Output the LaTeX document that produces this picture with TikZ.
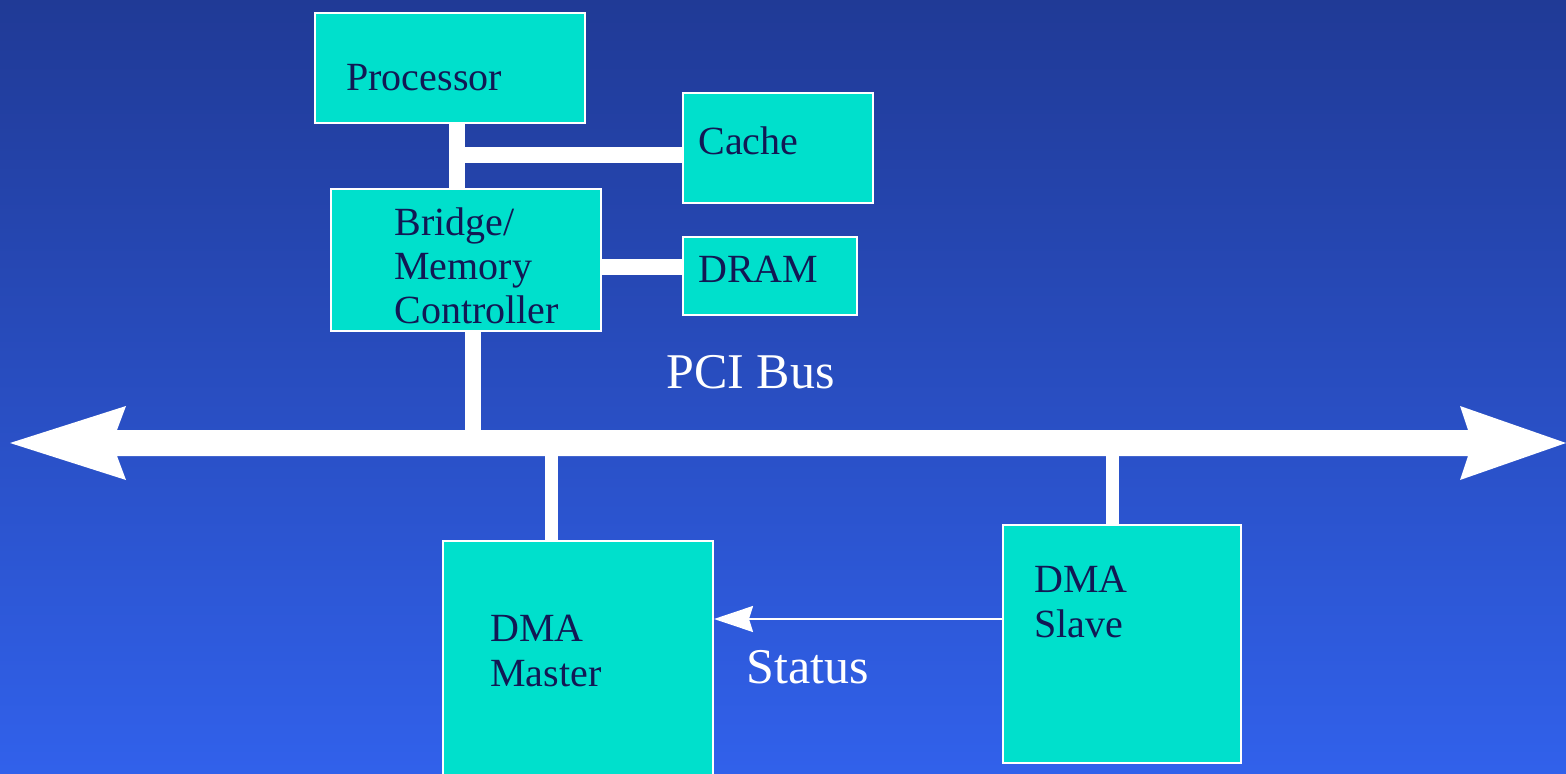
\documentclass[tikz,border=0pt]{standalone}
\usepackage{fontspec}
\setmainfont{Liberation Serif}
\usetikzlibrary{arrows.meta}
\definecolor{bgtop}{RGB}{32,58,150}
\definecolor{bgbot}{RGB}{49,97,235}
\definecolor{boxfill}{RGB}{0,224,204}
\definecolor{ink}{RGB}{18,24,84}
\tikzset{
  unitbox/.style={draw=white, line width=1pt, fill=boxfill, inner sep=0pt, anchor=north west},
  boxtext/.style={text=ink, font=\fontsize{20}{22}\selectfont, anchor=base west, inner sep=0pt},
  bigtext/.style={text=white, font=\fontsize{25}{28}\selectfont, anchor=base west, inner sep=0pt},
  bar/.style={draw=white, line width=8pt},
  thinbar/.style={draw=white, line width=6.5pt},
  statusarrow/.style={draw=white, line width=1pt, -{Stealth[length=19.5pt, width=13pt, inset=2pt]}}
}
\begin{document}
\begin{tikzpicture}[x=0.5pt,y=-0.5pt]
\shade[top color=bgtop, bottom color=bgbot] (0,0) rectangle (1566,774);
\useasboundingbox (0,0) rectangle (1566,774);

% bus
\fill[white] (10,443) -- (126,406) -- (117,430) -- (1468,430) -- (1460,406) -- (1566,443)
  -- (1460,480) -- (1468,456) -- (117,456) -- (126,480) -- cycle;
\coordinate (bustop) at (0,430);
\coordinate (busbot) at (0,456);

% boxes
\node[unitbox, minimum width=135pt, minimum height=55pt] (proc) at (314,12) {};
\node[unitbox, minimum width=95pt, minimum height=55pt] (cache) at (682,92) {};
\node[unitbox, minimum width=135pt, minimum height=71pt] (bridge) at (330,188) {};
\node[unitbox, minimum width=87pt, minimum height=39pt] (dram) at (682,236) {};
\node[unitbox, minimum width=135pt, minimum height=120pt] (master) at (442,540) {};
\node[unitbox, minimum width=119pt, minimum height=119pt] (slave) at (1002,524) {};

% connector positions
\coordinate (xpb) at (457,0);
\coordinate (ycache) at (0,155);
\coordinate (ydram) at (0,267);
\coordinate (xbb) at (473,0);
\coordinate (xmb) at (551.5,0);
\coordinate (xsb) at (1112,0);
\coordinate (ystat) at (0,619);

% connectors
\draw[bar] (proc.south -| xpb) -- (bridge.north -| xpb);
\draw[bar] (xpb |- ycache) -- (cache.west |- ycache);
\draw[bar] (bridge.east |- ydram) -- (dram.west |- ydram);
\draw[bar] (bridge.south -| xbb) -- (bustop -| xbb);
\draw[thinbar] (busbot -| xmb) -- (master.north -| xmb);
\draw[thinbar] (busbot -| xsb) -- (slave.north -| xsb);
\draw[statusarrow] (slave.west |- ystat) -- (master.east |- ystat);

% texts
\node[boxtext] (tproc) at (346,91) {Processor};
\node[boxtext] (tcache) at (698,155) {Cache};
\node[boxtext] (tbr1) at (394,236) {Bridge/};
\node[boxtext] (tbr2) at (394,280) {Memory};
\node[boxtext] (tbr3) at (394,324) {Controller};
\node[boxtext] (tdram) at (698,283) {DRAM};
\node[boxtext] (tm1) at (490,641) {DMA};
\node[boxtext] (tm2) at (490,686) {Master};
\node[boxtext] (ts1) at (1034,592) {DMA};
\node[boxtext] (ts2) at (1034,637) {Slave};
\node[bigtext] (tpci) at (666,389) {PCI Bus};
\node[bigtext] (tstatus) at (746,683) {Status};
\end{tikzpicture}
\end{document}
